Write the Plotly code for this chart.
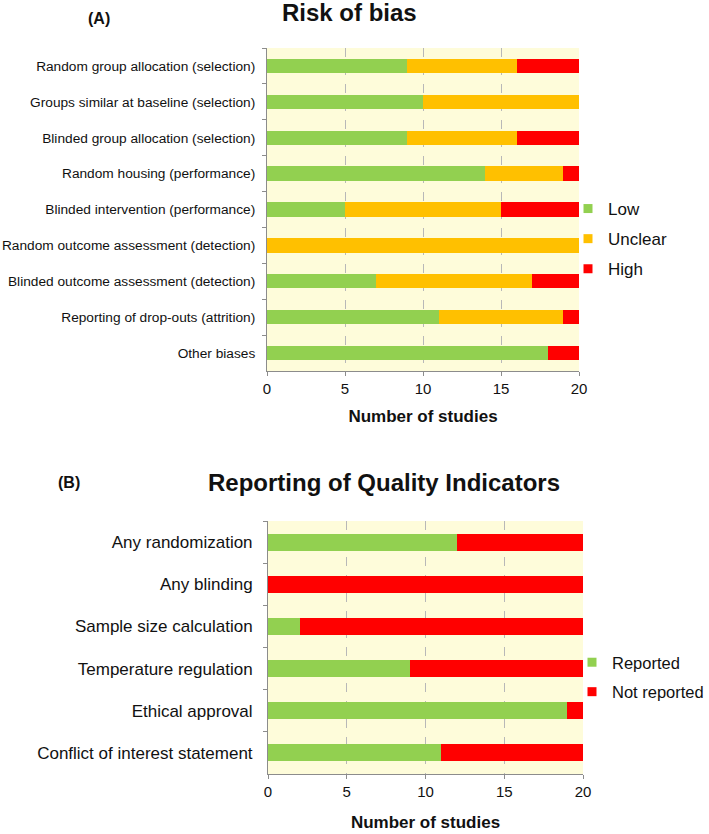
import plotly.graph_objects as go

# ---- Data ----
rob_categories = [
    "Random group allocation (selection)",
    "Groups similar at baseline (selection)",
    "Blinded group allocation (selection)",
    "Random housing (performance)",
    "Blinded intervention (performance)",
    "Random outcome assessment (detection)",
    "Blinded outcome assessment (detection)",
    "Reporting of drop-outs (attrition)",
    "Other biases",
]
rob_low = [9, 10, 9, 14, 5, 0, 7, 11, 18]
rob_unclear = [7, 10, 7, 5, 10, 20, 10, 8, 0]
rob_high = [4, 0, 4, 1, 5, 0, 3, 1, 2]

qi_categories = [
    "Any randomization",
    "Any blinding",
    "Sample size calculation",
    "Temperature regulation",
    "Ethical approval",
    "Conflict of interest statement",
]
qi_reported = [12, 0, 2, 9, 19, 11]
qi_not_reported = [8, 20, 18, 11, 1, 9]

x_ticks = [0, 5, 10, 15, 20]

GREEN = "#92D050"
ORANGE = "#FFC000"
RED = "#FF0000"
BG = "#FEFCDA"
FONT = "Liberation Sans, Arial, sans-serif"
W, H = 709, 834

fig = go.Figure()

def add_bar(name, x, y, color, xa, ya, legend):
    # the bars themselves
    fig.add_trace(go.Bar(
        name=name, x=x, y=y, orientation="h",
        marker=dict(color=color, line=dict(width=0)),
        xaxis=xa, yaxis=ya, legendgroup=name, showlegend=False,
    ))
    # legend entry with a small square swatch
    fig.add_trace(go.Scatter(
        name=name, x=[None], y=[None], mode="markers",
        marker=dict(symbol="square", size=9, color=color),
        xaxis=xa, yaxis=ya, legend=legend, legendgroup=name, showlegend=True,
    ))

add_bar("Low", rob_low, rob_categories, GREEN, "x", "y", "legend")
add_bar("Unclear", rob_unclear, rob_categories, ORANGE, "x", "y", "legend")
add_bar("High", rob_high, rob_categories, RED, "x", "y", "legend")
add_bar("Reported", qi_reported, qi_categories, GREEN, "x2", "y2", "legend2")
add_bar("Not reported", qi_not_reported, qi_categories, RED, "x2", "y2", "legend2")

def px_x(p):
    return p / W

def px_y(p):
    return 1 - p / H

xaxis_common = dict(
    range=[0, 20], tickvals=x_ticks, showgrid=True, gridcolor="#B8B8B8",
    griddash="dash", gridwidth=1, zeroline=False, showline=True,
    linecolor="#8C8C8C", linewidth=1, ticks="outside", ticklen=4,
    tickcolor="#8C8C8C", tickfont=dict(size=15, color="#111111", family=FONT),
    fixedrange=True, automargin=False,
)
yaxis_common = dict(
    type="category", autorange="reversed", showline=True, linecolor="#8C8C8C",
    linewidth=1, ticks="outside", tickson="boundaries", ticklen=4,
    tickcolor="#8C8C8C", showgrid=False, zeroline=False, fixedrange=True,
    automargin=False,
)

legend_common = dict(
    yanchor="top", bgcolor="rgba(0,0,0,0)",
    traceorder="grouped", tracegroupgap=5, itemclick=False, itemdoubleclick=False,
)

fig.update_layout(
    width=W, height=H,
    margin=dict(l=0, r=0, t=0, b=0, autoexpand=False),
    paper_bgcolor="white", plot_bgcolor=BG,
    barmode="stack", bargap=0.6,
    font=dict(family=FONT, color="#111111"),
    showlegend=True,
    xaxis=dict(domain=[px_x(267), px_x(579)], anchor="y",
               title=dict(text="<b>Number of studies</b>", font=dict(size=17), standoff=14),
               **xaxis_common),
    yaxis=dict(domain=[px_y(371), px_y(48)], anchor="x", ticklabelstandoff=8,
               tickfont=dict(size=13.7, color="#111111", family=FONT), **yaxis_common),
    xaxis2=dict(domain=[px_x(268), px_x(583)], anchor="y2",
                title=dict(text="<b>Number of studies</b>", font=dict(size=17), standoff=17),
                **xaxis_common),
    yaxis2=dict(domain=[px_y(774), px_y(521)], anchor="x2", ticklabelstandoff=11,
                tickfont=dict(size=17, color="#111111", family=FONT), **yaxis_common),
    legend=dict(x=px_x(568), xanchor="left", y=px_y(191),
                font=dict(size=17, family=FONT, color="#111111"), **legend_common),
    legend2=dict(x=1.0, xanchor="right", y=px_y(645),
                 font=dict(size=16.5, family=FONT, color="#111111"), **legend_common),
    annotations=[
        dict(text="<b>Risk of bias</b>", x=px_x(349), y=px_y(12), xref="paper", yref="paper",
             showarrow=False, xanchor="center", yanchor="middle", font=dict(size=24)),
        dict(text="<b>(A)</b>", x=px_x(99), y=px_y(19), xref="paper", yref="paper",
             showarrow=False, xanchor="center", yanchor="middle", font=dict(size=16)),
        dict(text="<b>Reporting of Quality Indicators</b>", x=px_x(384), y=px_y(483),
             xref="paper", yref="paper", showarrow=False, xanchor="center",
             yanchor="middle", font=dict(size=24)),
        dict(text="<b>(B)</b>", x=px_x(69), y=px_y(483), xref="paper", yref="paper",
             showarrow=False, xanchor="center", yanchor="middle", font=dict(size=16)),
    ],
)

# Remove the default 8px page margin so the 709x834 figure fills the window exactly.
fig.write_html("out.html", config={"displayModeBar": False},
               post_script="document.body.style.margin='0px';")
